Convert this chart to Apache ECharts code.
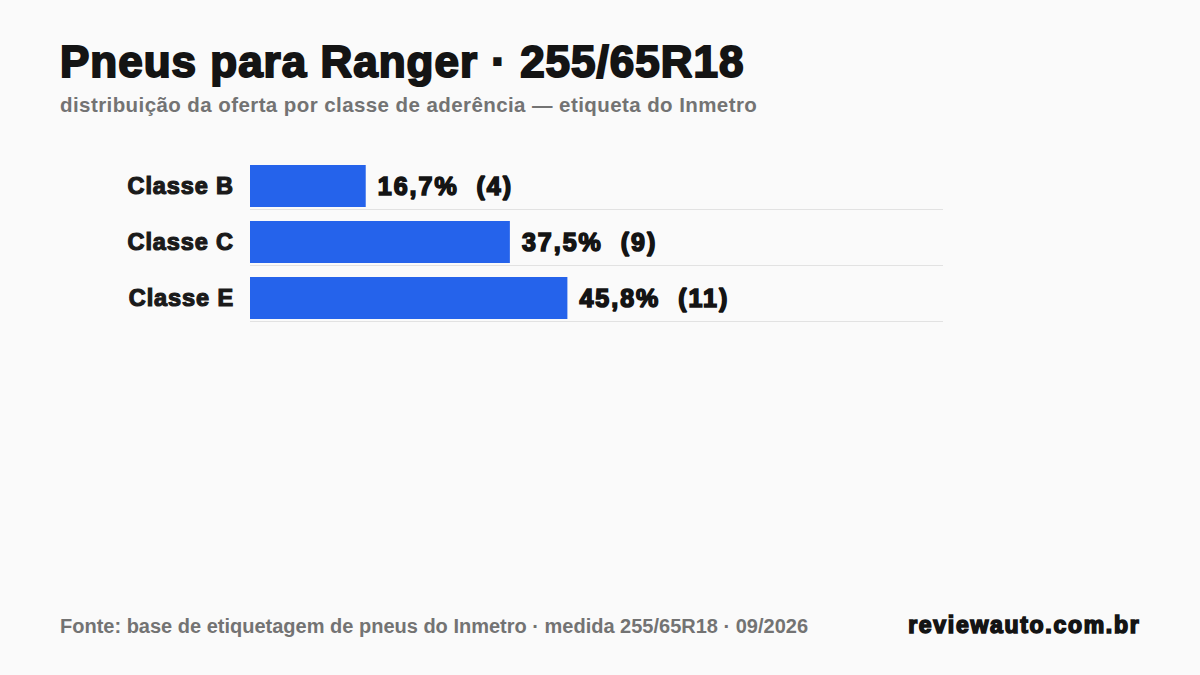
<!DOCTYPE html>
<html>
<head>
<meta charset="utf-8">
<script src="https://cdn.jsdelivr.net/npm/echarts@6/dist/echarts.min.js"></script>
<style>
  html, body { margin: 0; padding: 0; background: #fafafa; }
  #chart { width: 1200px; height: 675px; }
  #chart text[style*="44px"] { letter-spacing: 1px; }
  #chart text[style*="20.5px"] { letter-spacing: 0.42px; }
  #chart text[style*="23px"] { letter-spacing: 1.7px; }
  #chart text[style*="23.5px"] { letter-spacing: 0.9px; }
  #chart text[style*="25px"] { letter-spacing: 2px; }
</style>
</head>
<body>
<div id="chart"></div>
<script>
const categories = ['Classe B', 'Classe C', 'Classe E'];
const percents = [16.7, 37.5, 45.8];
const counts = [4, 9, 11];
const percentLabels = ['16,7%', '37,5%', '45,8%'];

const FONT = '"Liberation Sans", Arial, sans-serif';
const DARK = '#141414';
const GREY = '#737373';
const chart = echarts.init(document.getElementById('chart'), null, { renderer: 'svg' });

chart.setOption({
  backgroundColor: '#fafafa',
  animation: false,
  title: [
    {
      text: 'Pneus para Ranger · 255/65R18',
      left: 60, top: 39, padding: 0,
      textStyle: { fontFamily: FONT, fontWeight: 'bold', fontSize: 44, color: DARK,
                   textBorderColor: DARK, textBorderWidth: 2 }
    },
    {
      text: 'distribuição da oferta por classe de aderência — etiqueta do Inmetro',
      left: 60, top: 94, padding: 0,
      textStyle: { fontFamily: FONT, fontWeight: 'bold', fontSize: 20.5, color: GREY }
    },
    {
      text: 'Fonte: base de etiquetagem de pneus do Inmetro · medida 255/65R18 · 09/2026',
      left: 60, top: 616, padding: 0,
      textStyle: { fontFamily: FONT, fontWeight: 'bold', fontSize: 20, color: GREY }
    },
    {
      text: 'reviewauto.com.br',
      right: 87, top: 613, padding: 0,
      textStyle: { fontFamily: FONT, fontWeight: 'bold', fontSize: 23, color: DARK,
                   textBorderColor: DARK, textBorderWidth: 1.6 }
    }
  ],
  grid: { left: 250, right: 257, top: 158, bottom: 349, containLabel: false },
  xAxis: { type: 'value', min: 0, max: 100, show: false },
  yAxis: {
    type: 'category',
    data: categories,
    inverse: true,
    axisLine: { show: false },
    axisTick: { show: false },
    splitLine: { show: false },
    axisLabel: {
      margin: 16,
      fontFamily: FONT, fontWeight: 'bold', fontSize: 23.5, color: '#1a1a1a',
      textBorderColor: '#1a1a1a', textBorderWidth: 1.2
    }
  },
  series: [
    {
      type: 'custom',
      silent: true,
      z: 1,
      data: categories.map((c, i) => [0, i]),
      renderItem: function (params, api) {
        const idx = api.value(1);
        const p0 = api.coord([0, idx]);
        const p1 = api.coord([100, idx]);
        const y = Math.round(p0[1] + 23) + 0.5;
        return {
          type: 'line',
          shape: { x1: p0[0], y1: y, x2: p1[0], y2: y },
          style: { stroke: '#e2e2e2', lineWidth: 1 }
        };
      }
    },
    {
      type: 'bar',
      z: 2,
      data: percents,
      barWidth: 42,
      itemStyle: { color: '#2563eb' },
      label: {
        show: true, position: 'right', distance: 12,
        fontFamily: FONT, fontWeight: 'bold', fontSize: 25, color: DARK,
        textBorderColor: DARK, textBorderWidth: 1.6,
        formatter: function (p) { return percentLabels[p.dataIndex] + '  (' + counts[p.dataIndex] + ')'; }
      }
    }
  ]
});
</script>
</body>
</html>
